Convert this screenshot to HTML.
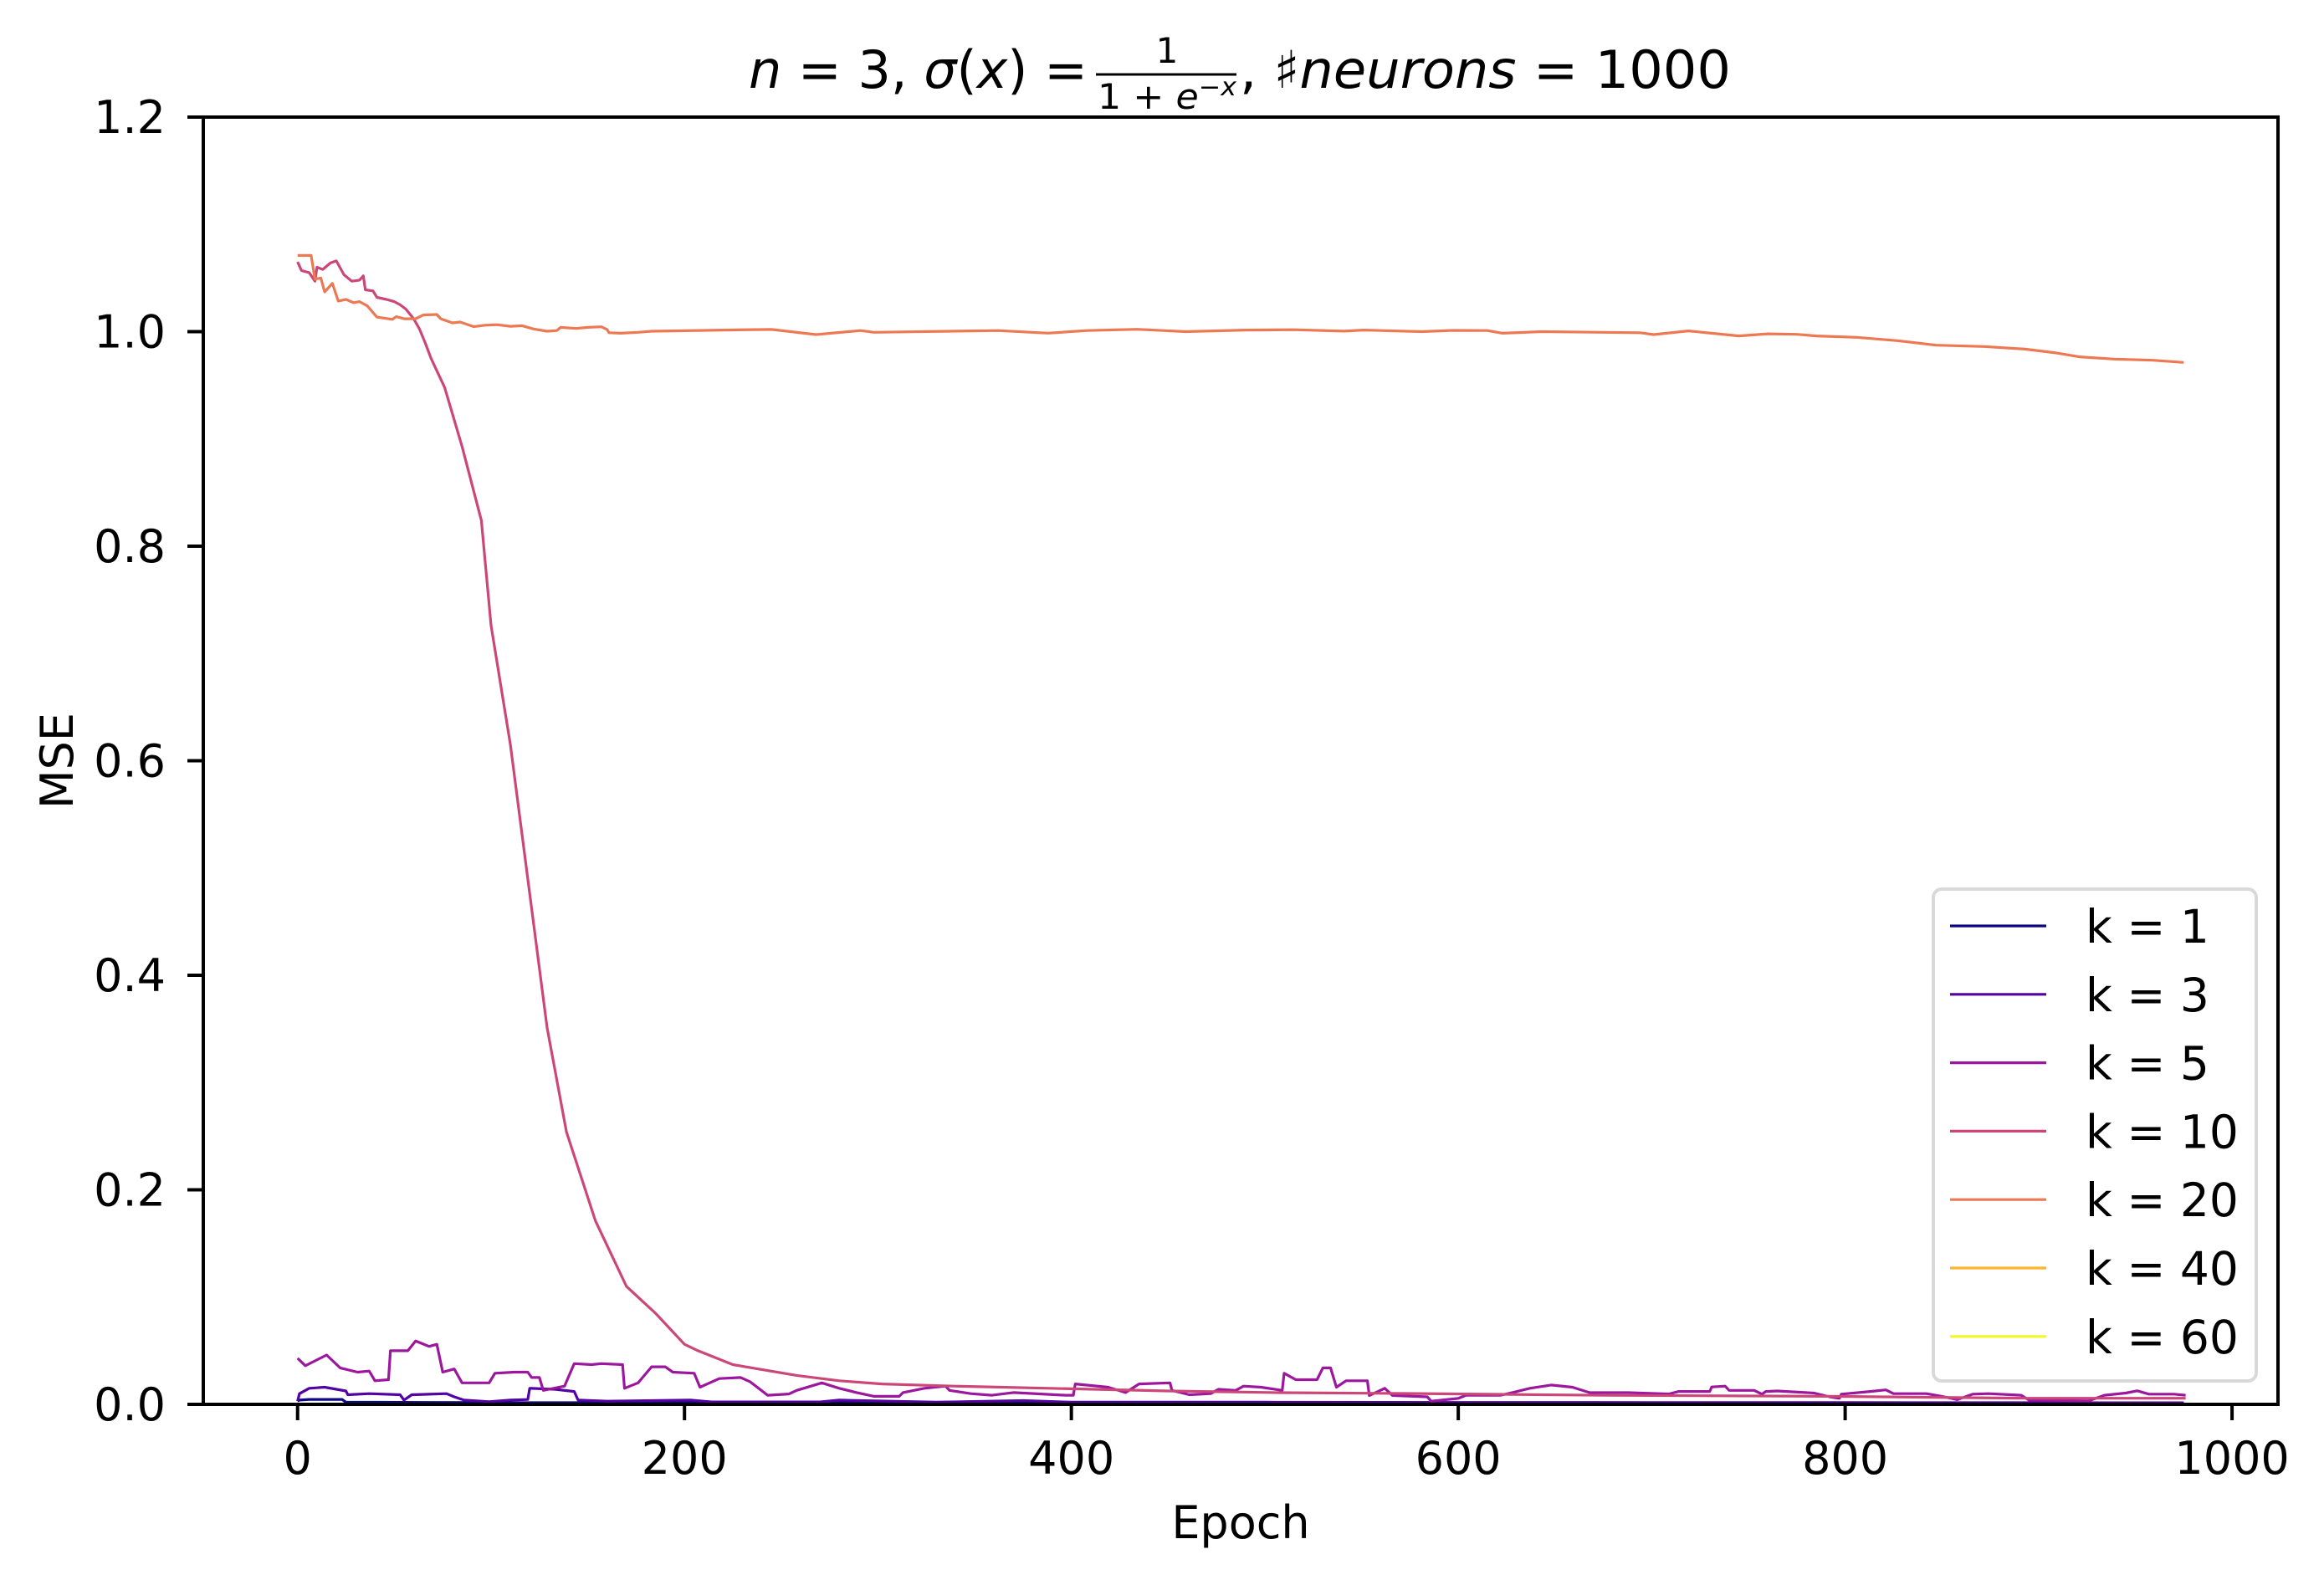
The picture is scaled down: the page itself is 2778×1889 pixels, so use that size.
<!DOCTYPE html>
<html><head><meta charset="utf-8"><style>
html,body{margin:0;padding:0;background:#fff;}
svg{display:block;font-family:"DejaVu Sans","Liberation Sans",sans-serif;}
</style></head><body>
<svg id="chart" width="2778" height="1889" viewBox="0 0 2778 1889" xmlns="http://www.w3.org/2000/svg">
<rect width="2778" height="1889" fill="#fff"/>
<g id="title" font-size="62" fill="#000">
  <text x="895" y="105" textLength="405" lengthAdjust="spacingAndGlyphs"><tspan font-style="italic">n</tspan> = 3, <tspan font-style="italic">σ</tspan>(<tspan font-style="italic">x</tspan>) =</text>
  <text x="1395" y="75" font-size="42" text-anchor="middle">1</text>
  <line x1="1310" y1="89" x2="1478" y2="89" stroke="#000" stroke-width="3"/>
  <text x="1312" y="130" font-size="42" textLength="166" lengthAdjust="spacingAndGlyphs">1 + <tspan font-style="italic">e</tspan><tspan font-size="30" dy="-16">−<tspan font-style="italic">x</tspan></tspan></text>
  <text x="1482" y="105" textLength="587" lengthAdjust="spacingAndGlyphs">, ♯<tspan font-style="italic">neurons</tspan> = 1000</text>
</g>
<g id="plot"></g>
<g id="axes"></g>
<g id="legend"></g>
</svg>
<script>
// ---- data ----
const xTicks = [0, 200, 400, 600, 800, 1000];
const yTicks = [0.0, 0.2, 0.4, 0.6, 0.8, 1.0, 1.2];
const seriesLabels = ["k = 1", "k = 3", "k = 5", "k = 10", "k = 20", "k = 40", "k = 60"];
const seriesColors = ["#0d0887", "#5302a3", "#9c179e", "#cc4778", "#ed7953", "#fdb42f", "#f0f921"];

const k1Epochs = [0, 1, 6, 23, 25, 100, 300, 500, 700, 900, 975];
const k1Values = [0.003, 0.004, 0.0046, 0.0046, 0.002, 0.0016, 0.0015, 0.0014, 0.0013, 0.0012, 0.0012];

const k3Epochs = [0, 1, 6, 14, 25, 26, 37, 53, 55, 59, 77, 81, 86, 99, 110, 119, 120, 133, 143, 145, 160, 203, 214, 270, 280, 330, 375, 400, 500, 600, 700, 800, 975];
const k3Values = [0.003, 0.010, 0.015, 0.016, 0.0125, 0.009, 0.010, 0.009, 0.004, 0.009, 0.010, 0.007, 0.004, 0.0025, 0.004, 0.0045, 0.015, 0.014, 0.012, 0.004, 0.003, 0.004, 0.0023, 0.0023, 0.004, 0.002, 0.0035, 0.002, 0.002, 0.0018, 0.0017, 0.0016, 0.0015];

const k5Epochs = [0, 4, 15, 22, 31, 37, 40, 47, 48, 57, 61, 68, 72, 75, 81, 85, 99, 102, 112, 119, 121, 125, 127, 138, 143, 152, 157, 168, 169, 176, 183, 190, 194, 205, 208, 213, 218, 229, 234, 243, 254, 258, 271, 280, 289, 298, 311, 313, 324, 335, 337, 348, 359, 370, 397, 401, 402, 419, 428, 435, 451, 452, 461, 472, 476, 485, 489, 498, 509, 510, 516, 527, 530, 534, 537, 542, 553, 554, 562, 566, 584, 586, 600, 604, 622, 628, 637, 648, 659, 666, 668, 688, 709, 714, 730, 731, 738, 740, 753, 757, 759, 765, 784, 792, 797, 798, 813, 821, 825, 842, 850, 858, 866, 874, 891, 895, 926, 934, 945, 951, 957, 970, 976];
const k5Values = [0.043, 0.036, 0.046, 0.034, 0.030, 0.031, 0.022, 0.023, 0.050, 0.050, 0.059, 0.054, 0.056, 0.030, 0.033, 0.020, 0.020, 0.029, 0.030, 0.030, 0.025, 0.025, 0.013, 0.017, 0.038, 0.037, 0.038, 0.037, 0.015, 0.020, 0.035, 0.035, 0.030, 0.029, 0.016, 0.020, 0.024, 0.025, 0.021, 0.0085, 0.0097, 0.013, 0.020, 0.015, 0.011, 0.0075, 0.0075, 0.011, 0.015, 0.017, 0.013, 0.010, 0.0085, 0.011, 0.0085, 0.0085, 0.019, 0.016, 0.011, 0.019, 0.020, 0.013, 0.009, 0.010, 0.014, 0.013, 0.017, 0.016, 0.013, 0.029, 0.023, 0.023, 0.034, 0.034, 0.016, 0.022, 0.022, 0.0083, 0.015, 0.0083, 0.0070, 0.0030, 0.0055, 0.0085, 0.0085, 0.011, 0.015, 0.018, 0.016, 0.012, 0.0109, 0.0109, 0.0097, 0.012, 0.012, 0.0162, 0.017, 0.013, 0.013, 0.0095, 0.012, 0.0125, 0.0105, 0.0070, 0.0056, 0.0095, 0.012, 0.0135, 0.010, 0.010, 0.0075, 0.0044, 0.0095, 0.010, 0.0085, 0.0040, 0.0033, 0.0085, 0.0105, 0.0126, 0.0095, 0.0095, 0.0085];

const k10Epochs = [0, 2, 6, 9, 10, 13, 17, 20, 24, 28, 32, 34, 35, 39, 41, 46, 50, 53, 56, 60, 63, 66, 69, 76, 85, 95, 100, 110, 120, 129, 139, 154, 170, 176, 185, 200, 207, 225, 258, 280, 302, 339, 400, 450, 507, 573, 676, 792, 895, 976];
const k10Values = [1.065, 1.057, 1.055, 1.047, 1.060, 1.058, 1.064, 1.066, 1.053, 1.047, 1.048, 1.052, 1.039, 1.038, 1.032, 1.030, 1.028, 1.025, 1.021, 1.012, 1.0025, 0.9895, 0.975, 0.948, 0.893, 0.824, 0.726, 0.615, 0.476, 0.351, 0.254, 0.171, 0.110, 0.100, 0.085, 0.056, 0.050, 0.037, 0.027, 0.022, 0.019, 0.017, 0.0145, 0.0125, 0.0109, 0.0101, 0.0084, 0.0075, 0.0057, 0.0057];

const k20Epochs = [0, 7, 9, 12, 14, 18, 21, 25, 29, 32, 36, 41, 49, 51, 55, 61, 65, 72, 74, 80, 84, 91, 97, 103, 110, 116, 122, 129, 134, 136, 144, 150, 157, 160, 161, 167, 176, 183, 235, 245, 268, 291, 298, 362, 388, 408, 434, 459, 490, 515, 541, 551, 581, 597, 615, 623, 643, 694, 701, 719, 745, 760, 775, 785, 806, 827, 847, 872, 893, 908, 921, 939, 959, 975];
const k20Values = [1.071, 1.071, 1.049, 1.050, 1.037, 1.045, 1.0285, 1.030, 1.027, 1.028, 1.024, 1.0136, 1.0115, 1.014, 1.012, 1.012, 1.0155, 1.016, 1.012, 1.0082, 1.009, 1.0047, 1.006, 1.0065, 1.005, 1.0055, 1.0025, 1.0004, 1.001, 1.004, 1.003, 1.004, 1.0045, 1.002, 0.999, 0.9985, 0.9994, 1.0004, 1.0019, 1.002, 0.9973, 1.001, 0.9994, 1.001, 0.9986, 1.001, 1.0022, 1.0, 1.0015, 1.0018, 1.0005, 1.0015, 1.0, 1.0012, 1.001, 0.9985, 1.0, 0.999, 0.9973, 1.0007, 0.996, 0.998, 0.9975, 0.996, 0.9947, 0.9916, 0.9874, 0.9861, 0.9837, 0.9804, 0.9765, 0.9744, 0.9733, 0.9713];

const k40Epochs = [];
const k40Values = [];
const k60Epochs = [];
const k60Values = [];

const seriesEpochs = [k1Epochs, k3Epochs, k5Epochs, k10Epochs, k20Epochs, k40Epochs, k60Epochs];
const seriesValues = [k1Values, k3Values, k5Values, k10Values, k20Values, k40Values, k60Values];

// ---- layout ----
const AX = {left: 243, right: 2723, top: 140, bottom: 1679};
const xMin = -48.75, xMax = 1023.75, yMin = 0, yMax = 1.2;
function xScale(v){ return AX.left + (v - xMin) / (xMax - xMin) * (AX.right - AX.left); }
function yScale(v){ return AX.bottom - (v - yMin) / (yMax - yMin) * (AX.bottom - AX.top); }

const NS = "http://www.w3.org/2000/svg";
function mk(tag, attrs, parent){
  const el = document.createElementNS(NS, tag);
  for (const k in attrs) el.setAttribute(k, attrs[k]);
  parent.appendChild(el);
  return el;
}

const plot = document.getElementById('plot');
const clip = mk('clipPath', {id: 'axclip'}, plot);
mk('rect', {x: AX.left, y: AX.top, width: AX.right - AX.left, height: AX.bottom - AX.top}, clip);

for (let s = 0; s < seriesLabels.length; s++) {
  const ep = seriesEpochs[s], va = seriesValues[s];
  if (!ep.length) continue;
  const pts = ep.map((e, i) => xScale(e).toFixed(1) + ',' + yScale(va[i]).toFixed(1)).join(' ');
  const pl = mk('polyline', {points: pts, fill: 'none', stroke: seriesColors[s], 'stroke-width': 3.2, 'stroke-linejoin': 'round', 'clip-path': 'url(#axclip)'}, plot);
  
  
}

// ---- axes ----
const axes = document.getElementById('axes');
const frame = mk('rect', {x: AX.left, y: AX.top, width: AX.right - AX.left, height: AX.bottom - AX.top, fill: 'none', stroke: '#000', 'stroke-width': 4}, axes);



xTicks.forEach(t => {
  const x = xScale(t);
  const tk = mk('line', {x1: x, y1: AX.bottom, x2: x, y2: AX.bottom + 19, stroke: '#000', 'stroke-width': 4}, axes);
  
  
  const lb = mk('text', {x: x, y: AX.bottom + 83, 'font-size': 54, 'text-anchor': 'middle', fill: '#000'}, axes);
  lb.textContent = String(t);
  
  
});
yTicks.forEach(t => {
  const y = yScale(t);
  const tk = mk('line', {x1: AX.left - 19, y1: y, x2: AX.left, y2: y, stroke: '#000', 'stroke-width': 4}, axes);
  
  
  const lb = mk('text', {x: AX.left - 45, y: y + 19, 'font-size': 54, 'text-anchor': 'end', fill: '#000'}, axes);
  lb.textContent = t.toFixed(1);
  
  
});
const xt = mk('text', {x: (AX.left + AX.right) / 2, y: 1839, 'font-size': 54, 'text-anchor': 'middle', fill: '#000'}, axes);
xt.textContent = 'Epoch';


const yt = mk('text', {x: 0, y: 0, 'font-size': 54, 'text-anchor': 'middle', fill: '#000', transform: 'translate(87,' + ((AX.top + AX.bottom) / 2) + ') rotate(-90)'}, axes);
yt.textContent = 'MSE';



// ---- legend ----
const lg = document.getElementById('legend');


mk('rect', {x: 2311, y: 1063, width: 386, height: 588, rx: 10, ry: 10, fill: '#fff', 'fill-opacity': 0.8, stroke: '#d9d9d9', 'stroke-width': 4}, lg);
seriesLabels.forEach((lab, i) => {
  const y = 1107 + i * 81.8;
  const ln = mk('line', {x1: 2331, y1: y, x2: 2446, y2: y, stroke: seriesColors[i], 'stroke-width': 3.2}, lg);
  
  
  const tx = mk('text', {x: 2493, y: y + 20, 'font-size': 55, fill: '#000'}, lg);
  tx.textContent = lab;
  
  
});
</script>
</body></html>
